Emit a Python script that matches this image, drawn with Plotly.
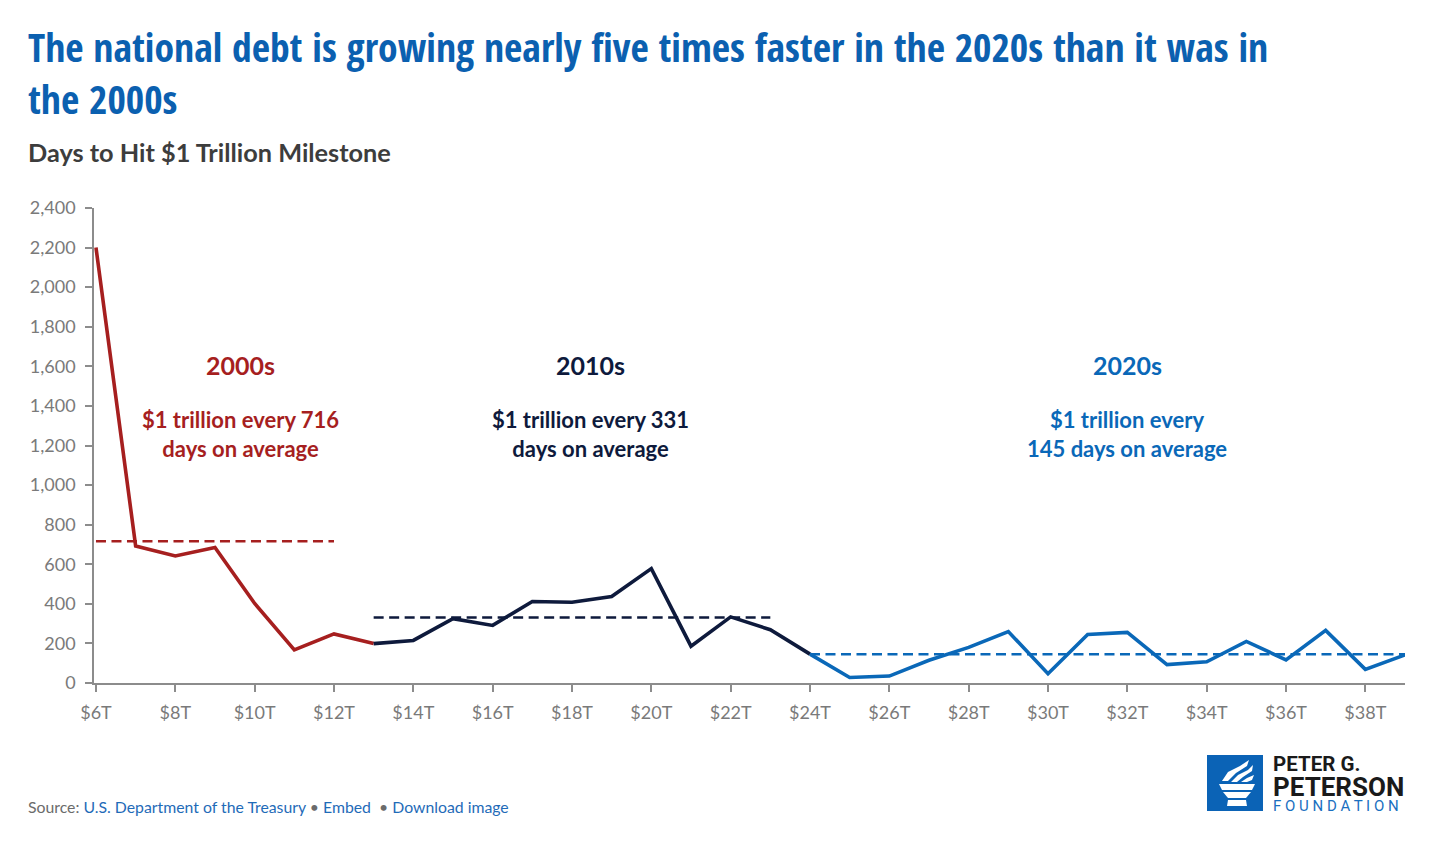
import plotly.graph_objects as go

# ---------------- data ----------------
debt_2000s = [6, 7, 8, 9, 10, 11, 12, 13]
days_2000s = [2200, 692, 642, 685, 402, 167, 248, 199]

debt_2010s = [13, 14, 15, 16, 17, 18, 19, 20, 21, 22, 23, 24]
days_2010s = [199, 215, 325, 291, 412, 408, 437, 578, 186, 334, 269, 146]

debt_2020s = [24, 25, 26, 27, 28, 29, 30, 31, 32, 33, 34, 35, 36, 37, 38, 39]
days_2020s = [146, 28, 35, 115, 180, 260, 47, 245, 256, 93, 107, 210, 117, 266, 69, 142]

decades = ["2000s", "2010s", "2020s"]
avg_days = [716, 331, 145]
avg_start = [6, 13, 24]
avg_end = [12, 23, 39]

x_tick_vals = [6, 8, 10, 12, 14, 16, 18, 20, 22, 24, 26, 28, 30, 32, 34, 36, 38]
x_tick_text = ["$%dT" % v for v in x_tick_vals]
y_tick_vals = [0, 200, 400, 600, 800, 1000, 1200, 1400, 1600, 1800, 2000, 2200, 2400]
y_tick_text = ["{:,}".format(v) for v in y_tick_vals]

# ---------------- style ----------------
RED = "#a61f1f"
NAVY = "#0e1a3c"
BLUE = "#0a68b8"
TITLE_BLUE = "#0b60b0"
AXIS = "#8c8c8c"
TICKTXT = "#7a7a7a"
colors = [RED, NAVY, BLUE]
COND = "Open Sans Condensed, Roboto Condensed, DejaVu Sans Condensed, Roboto, sans-serif"

W, H = 1430, 860
L, R, T, B = 94, 25, 208, 177
PW, PH = W - L - R, H - T - B


def px(xp):
    return (xp - L) / PW


def py(yp):
    return (H - B - yp) / PH


fig = go.Figure()

for xs, ys, c in [(debt_2000s, days_2000s, RED),
                  (debt_2010s, days_2010s, NAVY),
                  (debt_2020s, days_2020s, BLUE)]:
    fig.add_trace(go.Scatter(x=xs, y=ys, mode="lines",
                             line=dict(color=c, width=3.6),
                             hoverinfo="skip", showlegend=False))

for a, s, e, c in zip(avg_days, avg_start, avg_end, colors):
    fig.add_trace(go.Scatter(x=[s, e], y=[a, a], mode="lines",
                             line=dict(color=c, width=2.4, dash="10px,5.5px"),
                             hoverinfo="skip", showlegend=False))

annos = []
# title
for txt, yc in [("The national debt is growing nearly five times faster in the 2020s than it was in", 47),
                ("the 2000s", 99)]:
    annos.append(dict(text="<span style='font-stretch:condensed'>%s</span>" % txt,
                      x=px(26), y=py(yc), xref="paper", yref="paper",
                      xanchor="left", yanchor="middle", showarrow=False,
                      font=dict(family=COND, size=39.7, color=TITLE_BLUE, weight=700)))
annos.append(dict(text="<b>Days to Hit $1 Trillion Milestone</b>",
                  x=px(26), y=py(152), xref="paper", yref="paper", xanchor="left", yanchor="middle",
                  showarrow=False, font=dict(family="Lato", size=25.3, color="#3d3d3d")))

# decade labels
centers = [240, 590, 1127]
subtexts = ["$1 trillion every 716<br>days on average",
            "$1 trillion every 331<br>days on average",
            "$1 trillion every<br>145 days on average"]
for d, cx, st, c in zip(decades, centers, subtexts, colors):
    annos.append(dict(text="<b>%s</b>" % d, x=px(cx), y=py(365), xref="paper", yref="paper",
                      xanchor="center", yanchor="middle", showarrow=False,
                      font=dict(family="Lato", size=25, color=c)))
    annos.append(dict(text="<b>%s</b>" % st.replace("<br>", "</b><br><b>"), x=px(cx), y=py(434),
                      xref="paper", yref="paper",
                      xanchor="center", yanchor="middle", showarrow=False,
                      font=dict(family="Lato", size=22, color=c)))

# footer
annos.append(dict(text="<span style='color:#6b6b6b'>Source: </span>U.S. Department of the Treasury "
                       "<span style='color:#6b6b6b'>\u2022</span> Embed  "
                       "<span style='color:#6b6b6b'>\u2022</span> Download image",
                  x=px(26), y=py(806), xref="paper", yref="paper", xanchor="left", yanchor="middle",
                  showarrow=False, font=dict(family="Lato", size=15.8, color="#1f6bb8")))

# logo text
annos.append(dict(text="<b>PETER G.</b>", x=px(1271), y=py(764), xref="paper", yref="paper",
                  xanchor="left", yanchor="middle", showarrow=False,
                  font=dict(family="Roboto", size=20.5, color="#1a1a1a")))
annos.append(dict(text="<b>PETERSON</b>", x=px(1271), y=py(786.5), xref="paper", yref="paper",
                  xanchor="left", yanchor="middle", showarrow=False,
                  font=dict(family="Roboto", size=26, color="#1a1a1a")))
annos.append(dict(text="F O U N D A T I O N", x=px(1271), y=py(806), xref="paper", yref="paper",
                  xanchor="left", yanchor="middle", showarrow=False,
                  font=dict(family="Roboto", size=15, color="#1a6fc0")))


def path(points):
    return "M " + " L ".join("%.5f,%.5f" % (px(a), py(b)) for a, b in points) + " Z"


shapes = [
    dict(type="rect", xref="paper", yref="paper", x0=px(1207), x1=px(1263), y0=py(811), y1=py(755),
         fillcolor="#0b63b6", line=dict(width=0), layer="above"),
    dict(type="path", xref="paper", yref="paper", layer="above", line=dict(width=0), fillcolor="white",
         path=path([(1219, 784), (1255, 784), (1252, 790), (1222, 790)])),
    dict(type="path", xref="paper", yref="paper", layer="above", line=dict(width=0), fillcolor="white",
         path=path([(1223, 792), (1251, 792), (1246, 798), (1228, 798)])),
    dict(type="path", xref="paper", yref="paper", layer="above", line=dict(width=0), fillcolor="white",
         path=path([(1228, 800), (1246, 800), (1247, 806), (1227, 806)])),
    dict(type="path", xref="paper", yref="paper", layer="above", line=dict(width=0), fillcolor="white",
         path=path([(1222, 781), (1228, 772), (1240, 766), (1249, 760), (1247, 766), (1236, 773), (1228, 781)])),
    dict(type="path", xref="paper", yref="paper", layer="above", line=dict(width=0), fillcolor="white",
         path=path([(1231, 782), (1238, 775), (1248, 770), (1253, 765), (1252, 771), (1243, 777), (1237, 782)])),
    dict(type="path", xref="paper", yref="paper", layer="above", line=dict(width=0), fillcolor="white",
         path=path([(1241, 782), (1247, 778), (1254, 775), (1252, 780), (1247, 782)])),
]

fig.update_layout(
    width=W, height=H,
    margin=dict(l=L, r=R, t=T, b=B, pad=0),
    paper_bgcolor="white", plot_bgcolor="white",
    annotations=annos, shapes=shapes,
    showlegend=False,
    font=dict(family="Lato"),
)

fig.update_xaxes(range=[5.95, 39.0], tickvals=x_tick_vals, ticktext=x_tick_text,
                 showgrid=False, zeroline=False, showline=True, linecolor=AXIS, linewidth=1.6,
                 ticks="outside", ticklen=7, tickcolor=AXIS, tickwidth=1.6,
                 tickfont=dict(family="Lato", size=18, color=TICKTXT), ticklabelstandoff=6)
fig.update_yaxes(range=[0, 2400], tickvals=y_tick_vals, ticktext=y_tick_text,
                 showgrid=False, zeroline=False, showline=True, linecolor=AXIS, linewidth=1.6,
                 ticks="outside", ticklen=7, tickcolor=AXIS, tickwidth=1.6,
                 tickfont=dict(family="Lato", size=18, color=TICKTXT), ticklabelstandoff=6)

fig.write_html("out.html", config={"displayModeBar": False},
               post_script="document.body.style.margin='0';")
